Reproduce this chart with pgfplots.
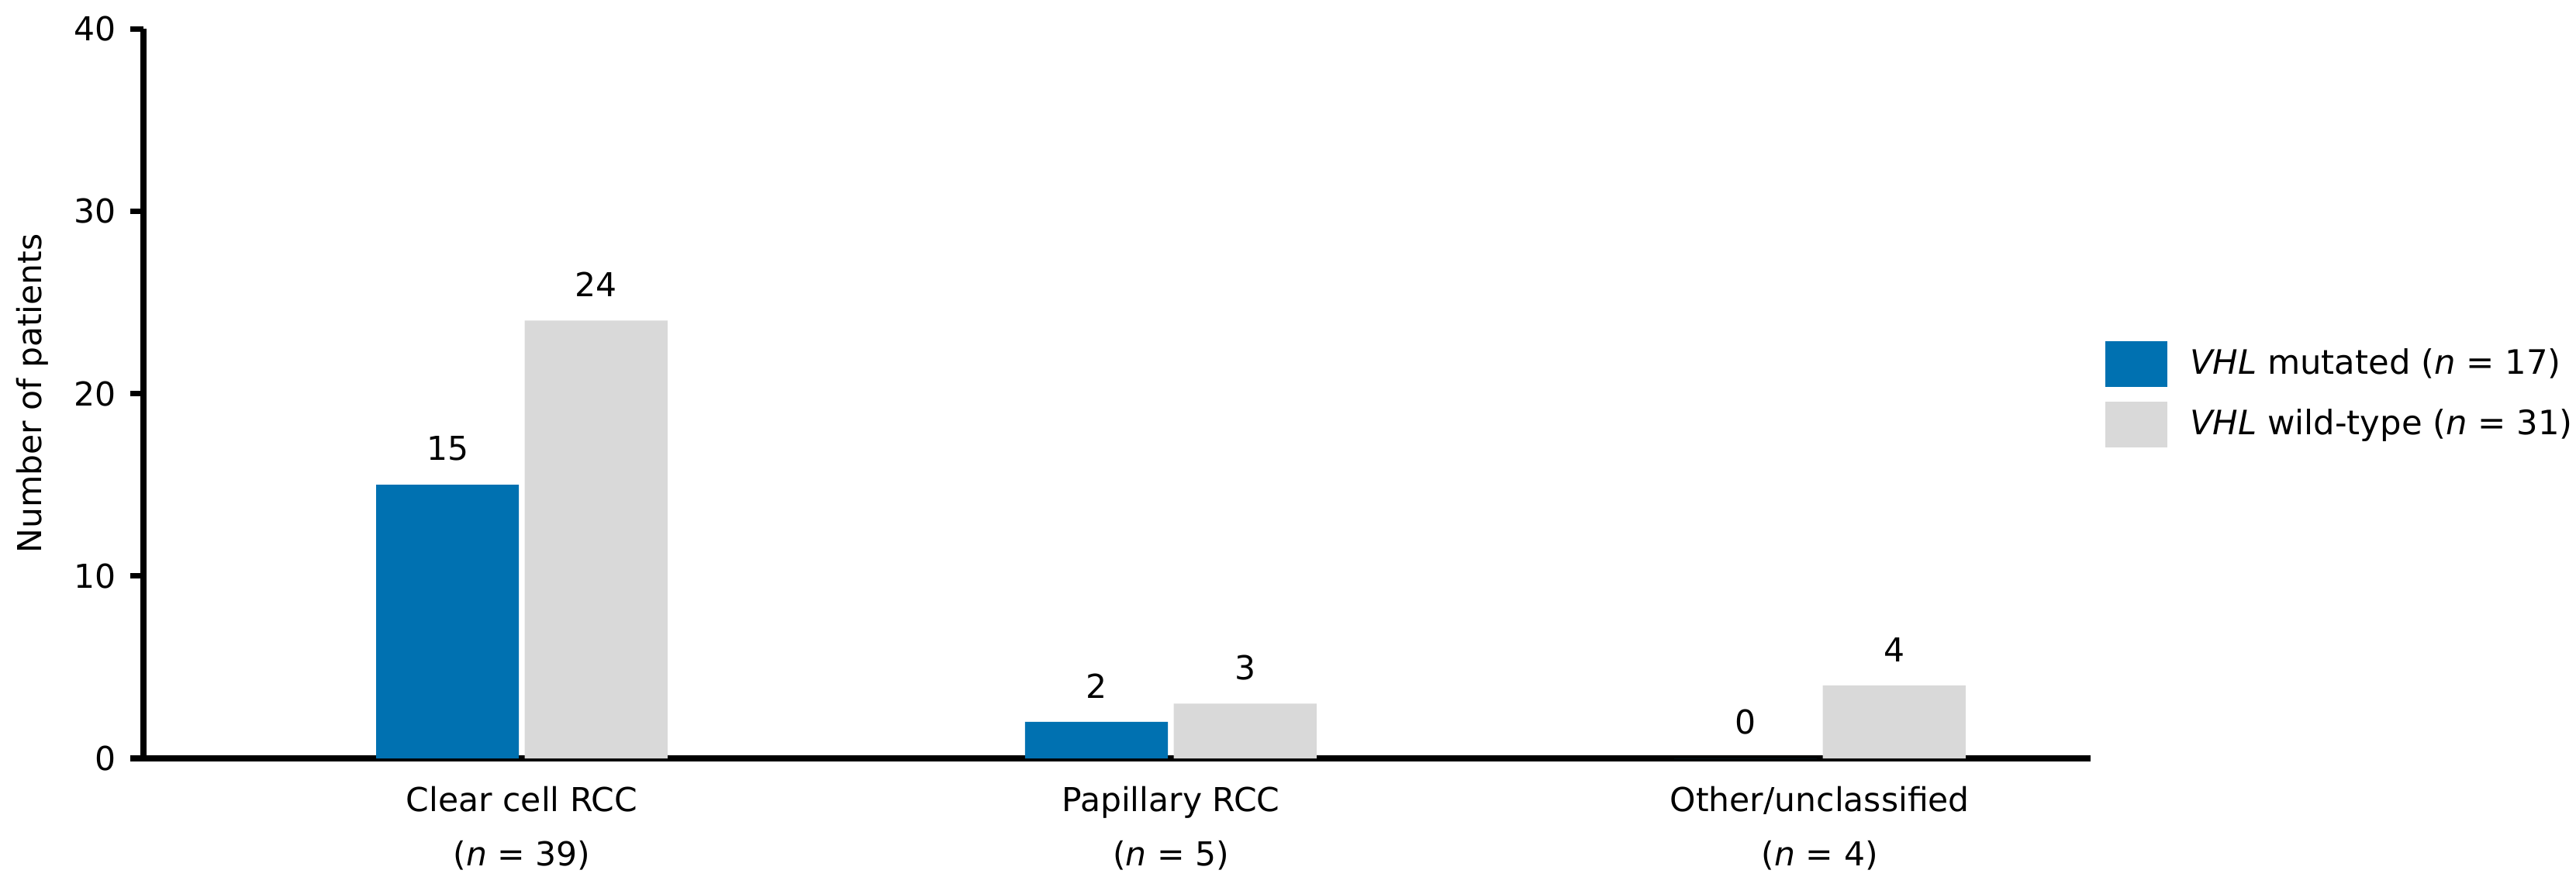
\documentclass[border=0pt]{standalone}
\usepackage{fontspec}
\setmainfont{DejaVu Sans}
\usepackage{pgfplots}
\pgfplotsset{compat=1.18}
\definecolor{vblue}{HTML}{0071B1}
\definecolor{vgrey}{HTML}{D9D9D9}
\begin{document}
\fontsize{10.2}{12}\selectfont
\begin{tikzpicture}
\path[use as bounding box] (-44.4pt,-38.64pt) rectangle (752.88pt,234.72pt);
\begin{axis}[
  at={(0,0)}, anchor=south west,
  scale only axis, width=602.6pt, height=225.8pt,
  xmin=-0.583, xmax=2.417, ymin=0, ymax=40,
  axis x line=bottom, axis y line=left,
  axis line style={line width=1.7pt,-},
  ytick={0,10,20,30,40},
  xtick={0,1,2},
  xticklabels={{Clear cell RCC\\(\textit{n} = 39)},{Papillary RCC\\(\textit{n} = 5)},{Other/unclassified\\(\textit{n} = 4)}},
  tick align=outside,
  major tick length=4.1pt,
  ytick style={line width=1.7pt, black},
  xtick style={draw=none},
  /pgf/number format/assume math mode=true,
  yticklabel style={font=\fontsize{10.2}{12}\selectfont, inner sep=0pt, xshift=-4.3pt},
  xticklabel style={font=\fontsize{10.2}{16.6}\selectfont, align=center, inner sep=0pt, yshift=-4.5pt},
  ylabel={Number of patients},
  ylabel style={at={(axis description cs:-0.0569,0.5)}, anchor=center, font=\fontsize{10.2}{12}\selectfont},
  ybar=1.8pt, bar width=44.2pt,
  nodes near coords,
  nodes near coords style={font=\fontsize{10.2}{12}\selectfont, black, yshift=3.8pt},
  every node near coord/.append style={/pgf/number format/assume math mode=true},
  legend style={draw=none, fill=none, inner sep=0pt, at={(1.0071,0.573)}, anchor=north west,
    cells={anchor=west}, row sep=4.5pt, font=\fontsize{10.4}{12.2}\selectfont,
    /tikz/every odd column/.append style={column sep=4.9pt}},
  legend image code/.code={\fill[#1] (0pt,-7.1pt) rectangle (19.4pt,7.1pt);},
]
\addplot[fill=vblue, draw=none] coordinates {(0,15) (1,2) (2,0)};
\addplot[fill=vgrey, draw=none] coordinates {(0,24) (1,3) (2,4)};
\legend{\textit{VHL} mutated (\textit{n} = 17), \textit{VHL} wild-type (\textit{n} = 31)}
\end{axis}
\end{tikzpicture}
\end{document}
